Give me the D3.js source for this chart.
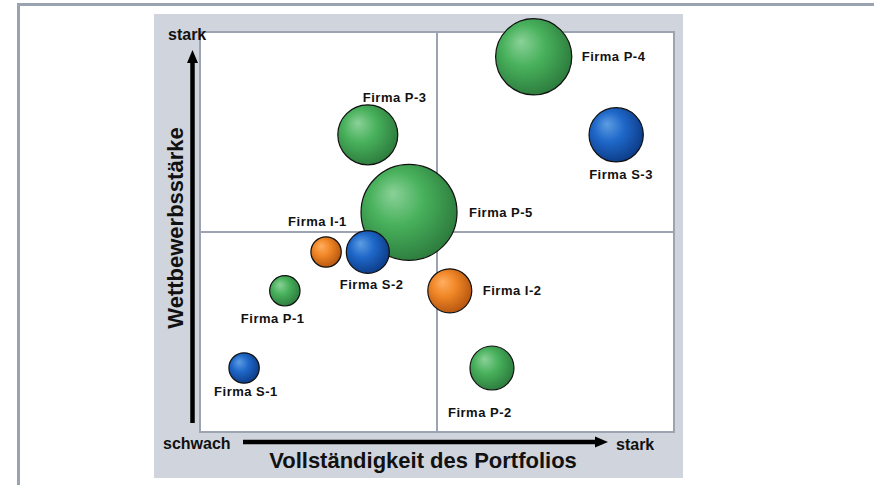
<!DOCTYPE html>
<html lang="de">
<head>
<meta charset="UTF-8">
<title>Portfolio Matrix</title>
<script src="https://d3js.org/d3.v7.min.js"></script>
<style>
  body { margin: 0; background: #fff; }
  svg text { font-family: "Liberation Sans", Arial, Helvetica, sans-serif; font-weight: bold; fill: #111; }
</style>
</head>
<body>
<div id="chart"></div>
<script>
// data
const names   = ["Firma P-1","Firma P-2","Firma P-3","Firma P-4","Firma P-5","Firma S-1","Firma S-2","Firma S-3","Firma I-1","Firma I-2"];
const groups  = ["P","P","P","P","P","S","S","S","I","I"];
const portfolio = [1.79, 6.16, 3.54, 7.04, 4.41, 0.93, 3.54, 8.78, 2.66, 5.27];   // x: Vollständigkeit
const strength  = [3.53, 1.60, 7.43, 9.38, 5.49, 1.60, 4.50, 7.43, 4.50, 3.53];   // y: Wettbewerbsstärke
const sizes     = [10, 21, 39, 63, 100, 10, 20, 32, 10, 21];
const xTitle = "Vollständigkeit des Portfolios";
const yTitle = "Wettbewerbsstärke";

// label placement (px offset from bubble centre)
const labelPos = {
  "Firma P-1": [-44, 32], "Firma P-2": [-44, 49], "Firma P-3": [-5, -33],
  "Firma P-4": [48, 4],   "Firma P-5": [60, 5],   "Firma S-1": [-30, 28],
  "Firma S-2": [-28, 37], "Firma S-3": [-27, 44], "Firma I-1": [-38, -26],
  "Firma I-2": [33, 4]
};

const width = 874, height = 485;
const plot = {left: 200, top: 32, right: 674, bottom: 432};

const svg = d3.select("#chart").append("svg")
  .attr("width", width).attr("height", height);

// outer frame
svg.append("line").attr("x1", 17).attr("x2", width).attr("y1", 4.5).attr("y2", 4.5)
  .attr("stroke", "#9aa3b0").attr("stroke-width", 3);
svg.append("line").attr("x1", 18.5).attr("x2", 18.5).attr("y1", 3).attr("y2", height)
  .attr("stroke", "#9aa3b0").attr("stroke-width", 3);

// grey panel
svg.append("rect").attr("x", 154).attr("y", 14).attr("width", 529).attr("height", 464)
  .attr("fill", "#d0d4dc");

const x = d3.scaleLinear().domain([0, 10]).range([plot.left, plot.right]);
const y = d3.scaleLinear().domain([0, 10]).range([plot.bottom, plot.top]);
const r = d3.scaleSqrt().domain([0, 100]).range([0, 48]);

svg.append("rect")
  .attr("x", x(0)).attr("y", y(10))
  .attr("width", x(10) - x(0)).attr("height", y(0) - y(10))
  .attr("fill", "#fff").attr("stroke", "#9ba4b0").attr("stroke-width", 2);

// quadrant lines
svg.append("line").attr("x1", x(5)).attr("x2", x(5)).attr("y1", y(0)).attr("y2", y(10))
  .attr("stroke", "#9ba4b0").attr("stroke-width", 2);
svg.append("line").attr("x1", x(0)).attr("x2", x(10)).attr("y1", y(5)).attr("y2", y(5))
  .attr("stroke", "#9ba4b0").attr("stroke-width", 2);

// gradients
const colors = {
  P: ["#8bd198", "#48b15c", "#2c7a3c"],
  S: ["#5e9de2", "#1f68c9", "#0c3a85"],
  I: ["#ffae62", "#f08626", "#b3540f"]
};
const defs = svg.append("defs");
Object.keys(colors).forEach(k => {
  const g = defs.append("radialGradient").attr("id", "grad" + k)
    .attr("cx", "42%").attr("cy", "42%").attr("r", "62%")
    .attr("fx", "33%").attr("fy", "30%");
  g.append("stop").attr("offset", "0%").attr("stop-color", colors[k][0]);
  g.append("stop").attr("offset", "45%").attr("stop-color", colors[k][1]);
  g.append("stop").attr("offset", "100%").attr("stop-color", colors[k][2]);
});

const data = names.map((n, i) => ({name: n, group: groups[i], x: portfolio[i], y: strength[i], size: sizes[i]}));
const order = data.slice().sort((a, b) => b.size - a.size);

svg.selectAll(".bubble")
  .data(order)
  .enter().append("circle")
  .attr("class", "bubble")
  .attr("cx", d => x(d.x))
  .attr("cy", d => y(d.y))
  .attr("r", d => r(d.size))
  .attr("fill", d => `url(#grad${d.group})`)
  .attr("stroke", "#111").attr("stroke-width", 1.2);

svg.selectAll(".lbl")
  .data(data)
  .enter().append("text")
  .attr("class", "lbl")
  .attr("x", d => x(d.x) + labelPos[d.name][0])
  .attr("y", d => y(d.y) + labelPos[d.name][1])
  .attr("font-size", 13)
  .attr("letter-spacing", 0.5)
  .text(d => d.name);

// axis arrows
const ax = x(0) - 7.5;
svg.append("line").attr("x1", ax).attr("x2", ax).attr("y1", y(0) - 9).attr("y2", y(10) + 28)
  .attr("stroke", "#000").attr("stroke-width", 4.5);
svg.append("path")
  .attr("d", `M${ax},${y(10) + 18} L${ax - 5.5},${y(10) + 31} L${ax + 5.5},${y(10) + 31} Z`)
  .attr("fill", "#000");

const ay = y(0) + 10;
svg.append("line").attr("x1", x(0) + 43).attr("x2", x(10) - 76).attr("y1", ay).attr("y2", ay)
  .attr("stroke", "#000").attr("stroke-width", 4.5);
svg.append("path")
  .attr("d", `M${x(10) - 66},${ay} L${x(10) - 79},${ay - 5.5} L${x(10) - 79},${ay + 5.5} Z`)
  .attr("fill", "#000");

// end labels
svg.append("text").attr("x", 168).attr("y", 40).attr("font-size", 16).text("stark");
svg.append("text").attr("x", 163).attr("y", 449).attr("font-size", 16).text("schwach");
svg.append("text").attr("x", 616).attr("y", 450).attr("font-size", 16).text("stark");

// axis titles
svg.append("text")
  .attr("x", (x(0) + x(10)) / 2 - 14).attr("y", 468)
  .attr("text-anchor", "middle").attr("font-size", 22)
  .text(xTitle);
svg.append("text")
  .attr("transform", `translate(183,${(y(0) + y(10)) / 2 - 4}) rotate(-90)`)
  .attr("text-anchor", "middle").attr("font-size", 22)
  .text(yTitle);
</script>
</body>
</html>
